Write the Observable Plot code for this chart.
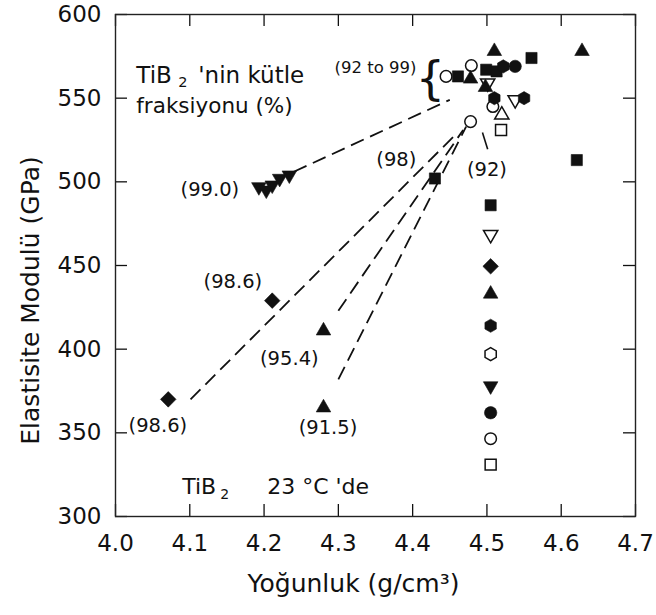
<!DOCTYPE html>
<html>
<head>
<meta charset="utf-8">
<script src="https://cdn.jsdelivr.net/npm/d3@7"></script>
<script src="https://cdn.jsdelivr.net/npm/@observablehq/plot@0.6"></script>
<style>
  body { margin: 0; background: #fff; }
  #chart svg { display: block; }
</style>
</head>
<body>
<div id="chart"></div>
<script>
// Axis ticks
const xTicks = [4.0, 4.1, 4.2, 4.3, 4.4, 4.5, 4.6, 4.7];
const yTicks = [300, 350, 400, 450, 500, 550, 600];

// [density g/cm3, elastic modulus GPa] grouped by marker
const filledSquares = [[4.461, 563], [4.499, 567], [4.513, 566], [4.560, 574], [4.621, 513], [4.430, 502], [4.505, 486]];
const openSquares = [[4.519, 531], [4.505, 331]];
const filledTriangles = [[4.478, 561.5], [4.510, 578], [4.498, 556.5], [4.628, 578], [4.505, 433], [4.280, 411], [4.280, 365]];
const openTriangles = [[4.520, 540]];
const filledDownTriangles = [[4.193, 497], [4.203, 495], [4.211, 498], [4.221, 502], [4.234, 504], [4.505, 378]];
const openDownTriangles = [[4.501, 559], [4.538, 549], [4.505, 468.5]];
const filledDiamonds = [[4.211, 429], [4.071, 370], [4.505, 449.5]];
const filledCircles = [[4.538, 569], [4.505, 362]];
const openCircles = [[4.445, 563], [4.479, 569.5], [4.508, 545], [4.478, 536], [4.505, 346.5]];
const filledHexagons = [[4.522, 569], [4.510, 550], [4.550, 550], [4.505, 414]];
const openHexagons = [[4.505, 397]];

// TiB2 mass fraction annotations: [text, density, modulus]
const fractionLabels = [
  ["(99.0)", 4.127, 495.5],
  ["(98.6)", 4.158, 440],
  ["(98.6)", 4.057, 354],
  ["(95.4)", 4.234, 394],
  ["(91.5)", 4.286, 353],
  ["(98)", 4.378, 513],
  ["(92)", 4.500, 507.5]
];

// Dashed guides from porous samples to the dense ones: [x1, y1, x2, y2]
const dashedGuides = [
  [4.240, 506, 4.450, 549],
  [4.101, 370, 4.455, 527],
  [4.300, 423, 4.468, 531],
  [4.300, 382, 4.472, 533]
];
// Solid leader for the (92) label
const leaders = [[4.494, 529.5, 4.501, 519.5]];

// Marker shapes not built into d3
const downTriangle = {
  draw(ctx, size) {
    const y = -Math.sqrt(size / (Math.sqrt(3) * 3));
    ctx.moveTo(0, -y * 2);
    ctx.lineTo(-Math.sqrt(3) * y, y);
    ctx.lineTo(Math.sqrt(3) * y, y);
    ctx.closePath();
  }
};
const hexagon = {
  draw(ctx, size) {
    const R = Math.sqrt(2 * size / (3 * Math.sqrt(3)));
    for (let i = 0; i < 6; i++) {
      const a = Math.PI / 3 * i - Math.PI / 2;
      const px = R * Math.cos(a), py = R * Math.sin(a);
      if (i) ctx.lineTo(px, py); else ctx.moveTo(px, py);
    }
    ctx.closePath();
  }
};

const ink = "#111";
const W = 656, H = 615, mL = 115, mR = 21, mT = 14, mB = 99;
const plotW = W - mL - mR, plotH = H - mT - mB;
const tickLen = 12;

const px = d => d[0], py = d => d[1];
function filled(data, symbol, r) {
  return Plot.dot(data, {x: px, y: py, symbol, r, fill: ink, stroke: ink, strokeWidth: 0.6});
}
function hollow(data, symbol, r) {
  return Plot.dot(data, {x: px, y: py, symbol, r, fill: "white", stroke: ink, strokeWidth: 1.5});
}

const chart = Plot.plot({
  width: W,
  height: H,
  marginLeft: mL,
  marginRight: mR,
  marginTop: mT,
  marginBottom: mB,
  style: {fontFamily: "'DejaVu Sans', sans-serif", background: "white", color: ink},
  x: {domain: [4.0, 4.7]},
  y: {domain: [300, 600]},
  marks: [
    // tick labels
    Plot.axisX(xTicks, {tickSize: 0, tickPadding: 18, fontSize: 23, label: null, tickFormat: d => d.toFixed(1)}),
    Plot.axisY(yTicks, {tickSize: 0, tickPadding: 14, fontSize: 23, label: null}),
    // inward ticks on all four sides
    Plot.tickX(xTicks, {x: d => d, insetTop: plotH - tickLen, stroke: ink, strokeWidth: 1.3}),
    Plot.tickX(xTicks, {x: d => d, insetBottom: plotH - tickLen, stroke: ink, strokeWidth: 1.3}),
    Plot.tickY(yTicks, {y: d => d, insetRight: plotW - tickLen, stroke: ink, strokeWidth: 1.3}),
    Plot.tickY(yTicks, {y: d => d, insetLeft: plotW - tickLen, stroke: ink, strokeWidth: 1.3}),
    Plot.frame({stroke: "#222", strokeWidth: 1.4}),

    // axis titles
    Plot.text(["Yoğunluk (g/cm³)"], {frameAnchor: "bottom", dx: -22, dy: 75, fontSize: 25, fill: ink}),
    Plot.text(["Elastisite Modulü (GPa)"], {frameAnchor: "left", textAnchor: "middle", dx: -85, dy: 35, rotate: -90, fontSize: 25, fill: ink}),

    // guides
    Plot.link(dashedGuides, {x1: d => d[0], y1: d => d[1], x2: d => d[2], y2: d => d[3],
      stroke: ink, strokeWidth: 1.8, strokeDasharray: "14,7"}),
    Plot.link(leaders, {x1: d => d[0], y1: d => d[1], x2: d => d[2], y2: d => d[3],
      stroke: ink, strokeWidth: 1.6}),

    // markers
    hollow(openCircles, "circle", 5.8),
    hollow(openSquares, "square", 6.2),
    hollow(openTriangles, "triangle", 5.3),
    hollow(openDownTriangles, downTriangle, 5.3),
    hollow(openHexagons, hexagon, 5.9),
    filled(filledSquares, "square", 6.3),
    filled(filledTriangles, "triangle", 5.4),
    filled(filledDownTriangles, downTriangle, 5.4),
    filled(filledDiamonds, d3.symbolDiamond2, 7),
    filled(filledCircles, "circle", 6.2),
    filled(filledHexagons, hexagon, 6),

    // composition labels
    Plot.text(fractionLabels, {x: d => d[1], y: d => d[2], text: d => d[0], fontSize: 19.5, fill: ink}),
    Plot.text(["(92 to 99)"], {x: 4.350, y: 568, fontSize: 16.5, fill: ink}),
    Plot.text(["{"], {x: 4.424, y: 561.5, fontSize: 46, fill: ink}),

    // legend-style annotation
    Plot.text(["TiB"], {x: 4.028, y: 563.5, textAnchor: "start", fontSize: 23, fill: ink}),
    Plot.text(["2"], {x: 4.028, y: 563.5, dx: 42, dy: 7, textAnchor: "start", fontSize: 14.5, fill: ink}),
    Plot.text(["'nin kütle"], {x: 4.028, y: 563.5, dx: 62, textAnchor: "start", fontSize: 23, fill: ink}),
    Plot.text(["fraksiyonu (%)"], {x: 4.028, y: 545, textAnchor: "start", fontSize: 21.5, fill: ink}),

    // temperature note
    Plot.text(["TiB"], {x: 4.0898, y: 317.5, textAnchor: "start", fontSize: 22, fill: ink}),
    Plot.text(["2"], {x: 4.0898, y: 317.5, dx: 38, dy: 7, textAnchor: "start", fontSize: 14, fill: ink}),
    Plot.text(["23 °C 'de"], {x: 4.2042, y: 317.5, textAnchor: "start", fontSize: 22, fill: ink})
  ]
});

document.getElementById("chart").append(chart);
</script>
</body>
</html>
